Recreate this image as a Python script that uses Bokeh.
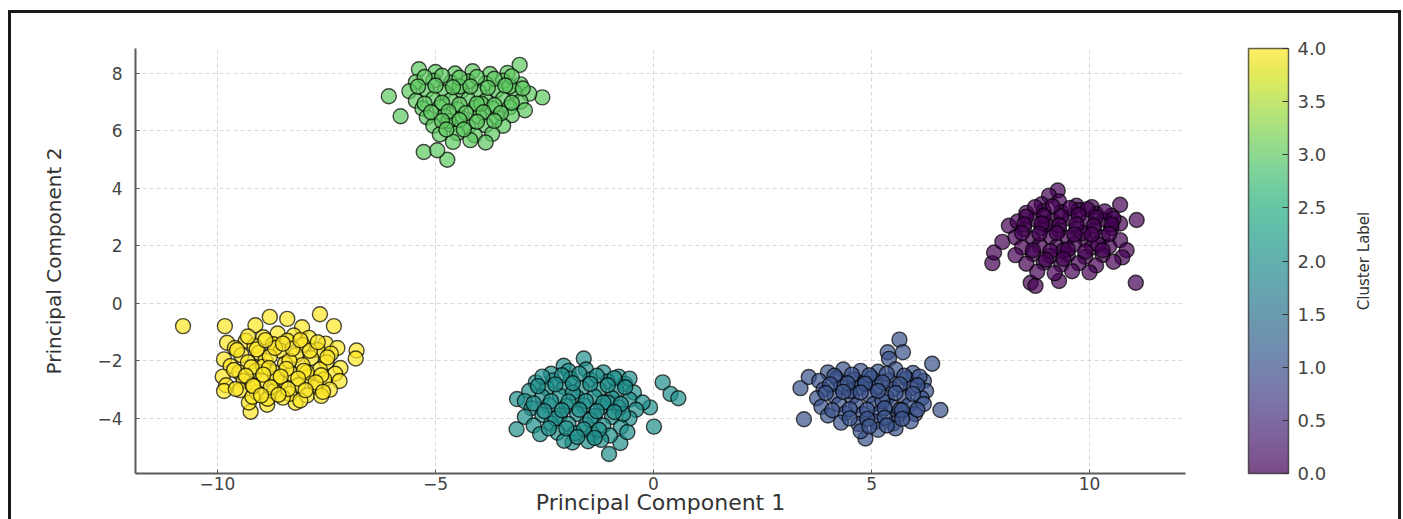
from bokeh.plotting import figure
from bokeh.layouts import row
from bokeh.models import (ColumnDataSource, LinearColorMapper, ColorBar, FixedTicker,
                          PrintfTickFormatter, Range1d)
from bokeh.palettes import Viridis256
from bokeh.embed import file_html
from bokeh.resources import INLINE

# ---- data ----
c0_x = [9.27, 9.07, 10.70, 11.08, 11.06, 7.77, 7.81, 8.00, 8.15, 8.65, 8.76, 9.30,
        8.90, 9.30, 9.70, 10.05,
        8.55, 8.95, 9.35, 9.75, 10.15, 10.50,
        8.35, 8.75, 9.15, 9.55, 9.95, 10.35, 10.70,
        8.50, 8.90, 9.30, 9.70, 10.10, 10.50,
        8.30, 8.70, 9.10, 9.50, 9.90, 10.30, 10.70,
        8.45, 8.85, 9.25, 9.65, 10.05, 10.45, 10.85,
        8.30, 8.70, 9.10, 9.50, 9.90, 10.30, 10.75,
        8.55, 8.95, 9.35, 9.75, 10.15, 10.55,
        8.80, 9.20, 9.60, 10.00,
        9.00, 9.85, 9.40, 10.20,
        8.75, 9.15, 9.55, 9.95, 10.35, 8.55, 8.95, 9.35, 9.75, 10.15, 10.55,
        8.50, 8.90, 9.30, 9.70, 10.10, 10.50, 8.45, 8.85, 9.25, 9.65, 10.05, 10.45,
        8.70, 9.10, 9.50, 9.90, 10.30, 9.00, 9.40]
c0_y = [3.93, 3.75, 3.43, 2.90, 0.72, 1.40, 1.77, 2.14, 2.70, 0.72, 0.61, 0.78,
        3.45, 3.55, 3.40, 3.35,
        3.15, 3.22, 3.18, 3.25, 3.12, 3.05,
        2.85, 2.92, 2.88, 2.95, 2.85, 2.90, 2.78,
        2.58, 2.62, 2.55, 2.60, 2.55, 2.62,
        2.30, 2.25, 2.32, 2.28, 2.22, 2.30, 2.20,
        1.95, 2.02, 1.98, 2.05, 1.95, 1.98, 1.85,
        1.68, 1.72, 1.65, 1.70, 1.62, 1.68, 1.60,
        1.38, 1.42, 1.35, 1.40, 1.32, 1.45,
        1.10, 1.05, 1.12, 1.08,
        2.75, 2.45, 1.85, 2.05,
        3.35, 3.38, 3.32, 3.28, 3.20, 3.02, 3.05, 3.02, 3.08, 3.00, 2.95,
        2.75, 2.78, 2.72, 2.75, 2.70, 2.75, 2.45, 2.42, 2.45, 2.40, 2.40, 2.42,
        1.85, 1.82, 1.88, 1.80, 1.85, 1.52, 1.55]

c1_x = [5.64, 5.37, 5.72, 5.40, 6.39, 6.58, 3.37, 3.45, 3.56, 4.86,
        4.00, 4.35, 4.75, 5.15, 5.55, 5.95,
        3.80, 4.20, 4.60, 5.00, 5.40, 5.80, 6.20,
        3.90, 4.30, 4.70, 5.10, 5.50, 5.90, 6.25,
        3.75, 4.15, 4.55, 4.95, 5.35, 5.75, 6.15,
        3.85, 4.25, 4.65, 5.05, 5.45, 5.85, 6.20,
        4.00, 4.40, 4.80, 5.20, 5.60, 6.00,
        4.30, 4.70, 5.10, 5.50, 5.90,
        4.75, 5.15, 5.55,
        4.50, 5.25, 4.85, 5.65,
        4.15, 4.55, 4.95, 5.35, 5.75, 6.10, 4.05, 4.45, 4.85, 5.25, 5.65, 6.05,
        3.95, 4.35, 4.75, 5.15, 5.55, 5.95, 4.10, 4.50, 4.90, 5.30, 5.70, 6.05,
        4.50, 4.90, 5.30, 5.70, 4.95, 5.35]
c1_y = [-1.26, -1.70, -1.70, -1.93, -2.10, -3.71, -2.95, -4.03, -2.56, -4.70,
        -2.40, -2.30, -2.35, -2.38, -2.30, -2.42,
        -2.70, -2.62, -2.65, -2.60, -2.68, -2.62, -2.70,
        -3.00, -2.92, -2.95, -2.90, -2.98, -2.95, -3.05,
        -3.30, -3.22, -3.25, -3.20, -3.28, -3.25, -3.30,
        -3.60, -3.52, -3.55, -3.50, -3.58, -3.55, -3.50,
        -3.90, -3.82, -3.85, -3.80, -3.88, -3.85,
        -4.15, -4.20, -4.12, -4.18, -4.10,
        -4.45, -4.40, -4.35,
        -3.05, -3.40, -2.75, -3.70,
        -2.52, -2.48, -2.50, -2.45, -2.52, -2.55, -2.82, -2.78, -2.80, -2.75, -2.82, -2.85,
        -3.12, -3.08, -3.10, -3.05, -3.12, -3.15, -3.72, -3.68, -3.70, -3.65, -3.72, -3.70,
        -4.00, -4.02, -3.98, -4.02, -4.28, -4.25]

c2_x = [-1.60, 0.21, 0.39, 0.57, -0.08, 0.01, -3.13, -3.14, -1.02, -0.76, -1.86, -2.06,
        -2.35, -1.95, -1.55, -1.15, -0.80,
        -2.70, -2.30, -1.90, -1.45, -1.05, -0.65,
        -2.85, -2.45, -2.05, -1.65, -1.25, -0.85, -0.45,
        -2.95, -2.55, -2.15, -1.75, -1.35, -0.95, -0.55, -0.25,
        -2.80, -2.40, -2.00, -1.60, -1.20, -0.80, -0.40,
        -2.95, -2.55, -2.15, -1.75, -1.35, -0.95, -0.55,
        -2.75, -2.35, -1.95, -1.55, -1.15, -0.75,
        -2.60, -2.20, -1.80, -1.40, -1.00, -0.60,
        -2.05, -1.50, -1.20,
        -1.85, -1.05, -2.25, -1.45, -0.70,
        -2.55, -2.10, -1.70, -1.30, -0.90, -0.55, -2.65, -2.25, -1.85, -1.45, -1.05, -0.65,
        -2.75, -2.35, -1.95, -1.55, -1.15, -0.75, -2.50, -2.10, -1.70, -1.30, -0.90,
        -2.40, -2.00, -1.60, -1.25, -1.75, -1.35]
c2_y = [-1.92, -2.75, -3.15, -3.30, -3.62, -4.29, -3.33, -4.38, -5.24, -4.86, -4.84, -2.17,
        -2.45, -2.35, -2.30, -2.40, -2.55,
        -2.75, -2.68, -2.62, -2.65, -2.72, -2.80,
        -3.05, -2.95, -2.92, -2.95, -3.00, -3.02, -3.10,
        -3.40, -3.25, -3.22, -3.28, -3.25, -3.30, -3.35, -3.45,
        -3.65, -3.55, -3.58, -3.55, -3.60, -3.62, -3.70,
        -3.95, -3.88, -3.90, -3.85, -3.92, -3.95, -4.00,
        -4.25, -4.18, -4.20, -4.22, -4.25, -4.30,
        -4.55, -4.50, -4.52, -4.55, -4.60, -4.48,
        -4.78, -4.80, -4.75,
        -3.10, -3.45, -4.00, -4.05, -3.85,
        -2.55, -2.50, -2.45, -2.52, -2.60, -2.62, -2.88, -2.82, -2.78, -2.80, -2.85, -2.92,
        -3.48, -3.40, -3.42, -3.40, -3.45, -3.50, -3.75, -3.72, -3.70, -3.75, -3.78,
        -4.35, -4.35, -4.38, -4.40, -4.65, -4.68]

c3_x = [-3.07, -6.07, -5.80, -5.38, -2.55, -5.27, -4.73, -4.96,
        -5.00, -4.55, -4.15, -3.75, -3.35,
        -5.45, -5.05, -4.65, -4.25, -3.85, -3.45, -3.05,
        -5.60, -5.20, -4.80, -4.40, -4.00, -3.60, -3.20, -2.85,
        -5.45, -5.05, -4.65, -4.25, -3.85, -3.45, -3.05,
        -5.30, -4.90, -4.50, -4.10, -3.70, -3.30, -2.95,
        -5.20, -4.80, -4.40, -4.00, -3.60, -3.25,
        -5.05, -4.65, -4.25, -3.85, -3.45,
        -4.90, -4.50, -4.10, -3.70,
        -4.60, -4.20, -3.85,
        -4.45, -3.95, -4.70, -3.30,
        -5.25, -4.85, -4.45, -4.05, -3.65, -3.25, -5.40, -5.00, -4.60, -4.20, -3.80, -3.40, -3.00,
        -5.25, -4.85, -4.45, -4.05, -3.65, -3.25, -5.10, -4.70, -4.30, -3.90, -3.50,
        -4.85, -4.45, -4.05, -3.65, -4.75, -4.35]
c3_y = [8.30, 7.21, 6.51, 8.15, 7.17, 5.27, 5.00, 5.33,
        8.05, 8.00, 8.08, 7.98, 8.02,
        7.70, 7.75, 7.68, 7.72, 7.65, 7.75, 7.62,
        7.38, 7.42, 7.35, 7.40, 7.35, 7.42, 7.38, 7.30,
        7.05, 7.12, 7.08, 7.10, 7.05, 7.12, 7.02,
        6.78, 6.82, 6.75, 6.80, 6.78, 6.82, 6.72,
        6.48, 6.52, 6.45, 6.50, 6.48, 6.55,
        6.18, 6.22, 6.15, 6.20, 6.18,
        5.88, 5.92, 5.85, 5.90,
        5.62, 5.68, 5.60,
        7.55, 6.95, 6.35, 7.55,
        7.88, 7.92, 7.85, 7.88, 7.82, 7.90, 7.55, 7.58, 7.52, 7.55, 7.50, 7.58, 7.48,
        6.95, 6.98, 6.92, 6.95, 6.90, 6.98, 6.65, 6.68, 6.62, 6.65, 6.62,
        6.35, 6.38, 6.32, 6.35, 6.05, 6.05]

c4_x = [-10.79, -9.83, -9.13, -8.80, -8.40, -7.65, -7.33, -8.06, -6.81, -6.83, -9.24, -9.28, -8.86, -8.21,
        -9.78, -9.35, -8.95, -8.62, -8.25, -7.90, -7.52, -7.25,
        -9.60, -9.15, -8.72, -8.40, -8.05, -7.70, -7.40,
        -9.85, -9.45, -9.05, -8.55, -8.20, -7.85, -7.50, -7.18,
        -9.70, -9.30, -8.90, -8.45, -8.05, -7.65, -7.30,
        -9.88, -9.50, -9.12, -8.70, -8.30, -7.92, -7.55, -7.20,
        -9.80, -9.40, -9.00, -8.55, -8.15, -7.75, -7.42,
        -9.85, -9.48, -9.10, -8.70, -8.35, -7.95, -7.62,
        -9.20, -8.85, -8.50, -8.10,
        -8.95, -8.35, -8.65, -9.20, -7.95, -8.80,
        -9.55, -9.10, -8.68, -8.28, -7.88, -7.48, -9.62, -9.22, -8.82, -8.42, -8.02, -7.62,
        -9.35, -8.95, -8.55, -8.15, -7.75, -9.58, -9.18, -8.78, -8.38, -7.98, -7.58,
        -9.30, -8.90, -8.50, -8.10, -7.70, -9.00, -8.60]
c4_y = [-0.79, -0.79, -0.76, -0.47, -0.54, -0.38, -0.79, -0.83, -1.64, -1.92, -3.77, -3.45, -3.53, -3.46,
        -1.37, -1.30, -1.18, -1.05, -1.12, -1.20, -1.40, -1.55,
        -1.55, -1.48, -1.42, -1.30, -1.45, -1.62, -1.75,
        -1.95, -1.80, -1.72, -1.65, -1.80, -1.90, -2.05, -2.25,
        -2.18, -2.05, -2.00, -2.10, -2.15, -2.30, -2.45,
        -2.55, -2.40, -2.35, -2.40, -2.45, -2.55, -2.65, -2.70,
        -2.85, -2.70, -2.68, -2.78, -2.85, -2.90, -3.00,
        -3.05, -3.02, -3.10, -3.05, -3.15, -3.20, -3.22,
        -3.25, -3.32, -3.28, -3.38,
        -2.20, -2.00, -2.60, -2.85, -2.40, -1.85,
        -1.62, -1.60, -1.55, -1.58, -1.65, -1.88, -2.32, -2.22, -2.25, -2.28, -2.35, -2.50,
        -2.52, -2.48, -2.55, -2.62, -2.75, -2.98, -2.88, -2.92, -2.98, -3.02, -3.08,
        -1.15, -1.28, -1.40, -1.28, -1.35, -3.20, -3.18]

cluster_x = [c0_x, c1_x, c2_x, c3_x, c4_x]
cluster_y = [c0_y, c1_y, c2_y, c3_y, c4_y]
cluster_labels = [0, 1, 2, 3, 4]

x_ticks = [-10, -5, 0, 5, 10]
y_ticks = [-4, -2, 0, 2, 4, 6, 8]
cb_ticks = [0.0, 0.5, 1.0, 1.5, 2.0, 2.5, 3.0, 3.5, 4.0]

# ---- build ----
xs, ys, labs = [], [], []
for lab, cx, cy in zip(cluster_labels, cluster_x, cluster_y):
    xs += cx
    ys += cy
    labs += [lab] * len(cx)
src = ColumnDataSource(dict(x=xs, y=ys, label=labs))

mapper = LinearColorMapper(palette=Viridis256, low=0, high=4)
font = "DejaVu Sans"

p = figure(width=1334, height=506, output_backend="svg", toolbar_location=None,
           x_range=Range1d(-11.88, 12.2), y_range=Range1d(-5.92, 8.87),
           min_border_left=124, min_border_right=160, min_border_top=35, min_border_bottom=46,
           background_fill_color="white", border_fill_color="white")
p.outline_line_color = None

p.scatter("x", "y", source=src, size=15,
          fill_color={"field": "label", "transform": mapper}, fill_alpha=0.7,
          line_color="black", line_alpha=0.7, line_width=1.4)

for ax in (p.xaxis[0], p.yaxis[0]):
    ax.axis_line_color = "#5a5a5a"
    ax.axis_line_width = 2
    ax.major_tick_line_color = "#5a5a5a"
    ax.major_tick_in = 4
    ax.major_tick_out = 0
    ax.minor_tick_line_color = None
    ax.major_label_text_font = font
    ax.major_label_text_font_size = "17px"
    ax.major_label_text_color = "#444444"
    ax.axis_label_text_font_style = "normal"
    ax.axis_label_text_color = "#333333"

p.xaxis.ticker = FixedTicker(ticks=x_ticks)
p.yaxis.ticker = FixedTicker(ticks=y_ticks)
p.xaxis.major_label_overrides = {t: (("\u2212" + str(abs(t))) if t < 0 else str(t)) for t in x_ticks}
p.yaxis.major_label_overrides = {t: (("\u2212" + str(abs(t))) if t < 0 else str(t)) for t in y_ticks}
p.xaxis.axis_label = "Principal Component 1"
p.xaxis.axis_label_text_font = font
p.xaxis.axis_label_text_font_size = "22px"
p.xaxis.major_label_standoff = 3
p.xaxis.axis_label_standoff = -3
p.yaxis.axis_label = "Principal Component 2"
p.yaxis.axis_label_text_font = font
p.yaxis.axis_label_text_font_size = "20px"
p.yaxis.major_label_standoff = 13
p.yaxis.axis_label_standoff = 28

p.grid.grid_line_color = "#cfcfcf"
p.grid.grid_line_dash = "4 3"
p.grid.grid_line_width = 1
p.grid.grid_line_alpha = 0.8

cb = ColorBar(color_mapper=mapper, width=40, height=425, padding=0, margin=0,
              location=(63, 0), scale_alpha=0.7,
              ticker=FixedTicker(ticks=cb_ticks), formatter=PrintfTickFormatter(format="%.1f"),
              major_label_text_font=font, major_label_text_font_size="18px",
              major_label_text_color="#444444", label_standoff=9,
              major_tick_in=6, major_tick_out=0, major_tick_line_color="#333333",
              minor_tick_line_color=None,
              bar_line_color="#222222", bar_line_width=1.5, border_line_color=None,
              background_fill_color=None)
p.add_layout(cb, "right")

# narrow strip on the right that carries the colour-bar caption
q = figure(width=53, height=506, output_backend="svg", toolbar_location=None,
           x_range=Range1d(0, 1), y_range=Range1d(0, 4),
           min_border_left=38, min_border_right=0, min_border_top=35, min_border_bottom=46,
           background_fill_color="white", border_fill_color="white")
q.outline_line_color = None
q.grid.visible = False
q.xaxis.visible = False
q.yaxis.ticker = FixedTicker(ticks=[])
q.yaxis.axis_line_color = None
q.yaxis.major_tick_line_color = None
q.yaxis.minor_tick_line_color = None
q.yaxis.axis_label = "Cluster Label"
q.yaxis.axis_label_text_font = font
q.yaxis.axis_label_text_font_size = "15px"
q.yaxis.axis_label_text_font_style = "normal"
q.yaxis.axis_label_text_color = "#333333"
q.yaxis.axis_label_standoff = 11

layout = row(p, q, styles={"border-top": "3px solid #1a1a1a", "border-left": "3px solid #1a1a1a",
                           "border-right": "3px solid #1a1a1a", "margin-left": "8px",
                           "margin-top": "10px"})

open("out.html", "w").write(file_html(layout, INLINE))
